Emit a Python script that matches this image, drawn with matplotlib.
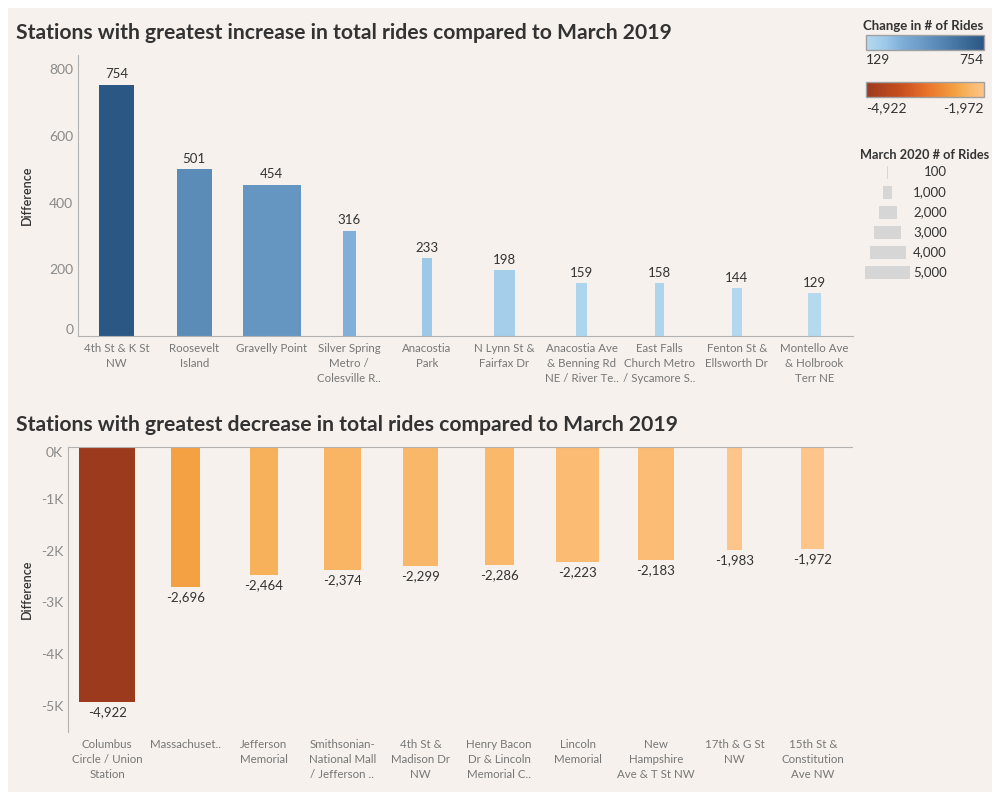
import matplotlib.pyplot as plt
import numpy as np
from matplotlib.colors import LinearSegmentedColormap, Normalize
from matplotlib.patches import Rectangle
from matplotlib.ticker import FuncFormatter

plt.rcParams['font.family'] = ['Lato', 'DejaVu Sans']

# data
inc_stations = ['4th St & K St\nNW', 'Roosevelt\nIsland', 'Gravelly Point',
                'Silver Spring\nMetro /\nColesville R..', 'Anacostia\nPark',
                'N Lynn St &\nFairfax Dr', 'Anacostia Ave\n& Benning Rd\nNE / River Te..',
                'East Falls\nChurch Metro\n/ Sycamore S..', 'Fenton St &\nEllsworth Dr',
                'Montello Ave\n& Holbrook\nTerr NE']
inc_diff = [754, 501, 454, 316, 233, 198, 159, 158, 144, 129]
inc_rides = [3900, 3900, 6450, 1450, 1100, 2350, 1200, 1000, 1100, 1450]

dec_stations = ['Columbus\nCircle / Union\nStation', 'Massachuset..', 'Jefferson\nMemorial',
                'Smithsonian-\nNational Mall\n/ Jefferson ..', '4th St &\nMadison Dr\nNW',
                'Henry Bacon\nDr & Lincoln\nMemorial C..', 'Lincoln\nMemorial',
                'New\nHampshire\nAve & T St NW', '17th & G St\nNW',
                '15th St &\nConstitution\nAve NW']
dec_diff = [-4922, -2696, -2464, -2374, -2299, -2286, -2223, -2183, -1983, -1972]
dec_rides = [6200, 3200, 3200, 4100, 3900, 3200, 4800, 4100, 1650, 2550]

size_legend = [100, 1000, 2000, 3000, 4000, 5000]

W, H = 1000, 800
PX_PER_RIDE = 45 / 5000
BG = '#f6f1ec'

blue_cmap = LinearSegmentedColormap.from_list('blues', [
    (0, '#b5daf0'), (0.17, '#9cc8e9'), (0.3, '#80afd9'),
    (0.52, '#6596c1'), (0.6, '#5a8bb8'), (1, '#2a5783')])
orange_cmap = LinearSegmentedColormap.from_list('oranges', [
    (0, '#9c3a1e'), (0.3, '#c8501f'), (0.5, '#e8702a'),
    (0.755, '#f4a142'), (0.83, '#f7b058'), (1, '#fec58a')])

fig = plt.figure(figsize=(W / 100, H / 100), dpi=100)
fig.patch.set_facecolor('white')
fig.patches.append(Rectangle((8 / W, 8 / H), 984 / W, 784 / H, transform=fig.transFigure,
                             facecolor=BG, edgecolor='none', zorder=-10))


def px_axes(x0, y0, x1, y1):
    return fig.add_axes([x0 / W, 1 - y1 / H, (x1 - x0) / W, (y1 - y0) / H])


def bar_chart(ax, names, diffs, rides, cmap):
    x = np.arange(len(names))
    unit = ax.get_position().width * W / len(names)
    widths = np.array(rides) * PX_PER_RIDE / unit
    norm = Normalize(min(diffs), max(diffs))
    bars = ax.bar(x, diffs, width=widths, color=cmap(norm(diffs)))
    ax.bar_label(bars, labels=[f'{d:,}' for d in diffs], padding=3, fontsize=9.5, color='#333333')
    ax.set_xlim(-0.5, len(names) - 0.5)
    ax.set_xticks(x, names, linespacing=1.45)
    ax.set_facecolor('none')
    ax.tick_params(length=0, labelsize=10, labelcolor='#8a8a8a')
    ax.tick_params(axis='x', labelsize=8.3, labelcolor='#777777', pad=5)
    for s in ax.spines.values():
        s.set_color('#b3b3b3')
    ax.set_ylabel('Difference', fontsize=9, color='#333333', weight='semibold')
    return bars


# top chart
ax1 = px_axes(78, 55, 853, 336)
bar_chart(ax1, inc_stations, inc_diff, inc_rides, blue_cmap)
ax1.set_ylim(0, 843)
ax1.set_yticks([0, 200, 400, 600, 800])
ax1.spines['top'].set_visible(False)
ax1.spines['right'].set_visible(False)
ax1.yaxis.get_major_ticks()[0].label1.set_va('bottom')
ax1.yaxis.set_label_coords(-45 / 775, 0.5)

# bottom chart
ax2 = px_axes(68, 447, 852, 732)
bar_chart(ax2, dec_stations, dec_diff, dec_rides, orange_cmap)
ax2.set_ylim(-5500, 0)
ax2.set_yticks([0, -1000, -2000, -3000, -4000, -5000])
ax2.yaxis.set_major_formatter(FuncFormatter(lambda v, _: f'{int(v / 1000)}K'))
ax2.spines['bottom'].set_visible(False)
ax2.spines['right'].set_visible(False)
ax2.yaxis.get_major_ticks()[0].label1.set_va('top')
ax2.yaxis.set_label_coords(-35 / 784, 0.5)

fig.text(16 / W, 1 - 33 / H, 'Stations with greatest increase in total rides compared to March 2019',
         fontsize=15.2, weight='bold', color='#333333', va='center')
fig.text(16 / W, 1 - 425 / H, 'Stations with greatest decrease in total rides compared to March 2019',
         fontsize=15.2, weight='bold', color='#333333', va='center')

# legends
leg = fig.add_axes([0, 0, 1, 1])
leg.patch.set_visible(False)
leg.axis('off')
grad = np.linspace(0, 1, 256)[None, :]

leg.text(923, 26, 'Change in # of Rides', ha='center', va='center', fontsize=9.5,
         weight='bold', color='#333333')
leg.imshow(grad, cmap=blue_cmap, extent=(866, 984, 50, 35), aspect='auto')
leg.add_patch(Rectangle((866, 35), 118, 15, fill=False, edgecolor='#a0a0a0', lw=1))
leg.text(866, 60, f'{min(inc_diff):,}', ha='left', va='center', fontsize=10, color='#333333')
leg.text(984, 60, f'{max(inc_diff):,}', ha='right', va='center', fontsize=10, color='#333333')

leg.imshow(grad, cmap=orange_cmap, extent=(866, 984, 97, 82), aspect='auto')
leg.add_patch(Rectangle((866, 82), 118, 15, fill=False, edgecolor='#a0a0a0', lw=1))
leg.text(866, 108, f'{min(dec_diff):,}', ha='left', va='center', fontsize=10, color='#333333')
leg.text(984, 108, f'{max(dec_diff):,}', ha='right', va='center', fontsize=10, color='#333333')

leg.text(925, 155, 'March 2020 # of Rides', ha='center', va='center', fontsize=9.2,
         weight='bold', color='#333333')
for i, v in enumerate(size_legend):
    y = 172 + 20 * i
    w = v * PX_PER_RIDE
    leg.add_patch(Rectangle((887.5 - w / 2, y - 6.5), w, 13, facecolor='#d6d6d6', edgecolor='none'))
    leg.text(947, y, f'{v:,}', ha='right', va='center', fontsize=9.5, color='#333333')

leg.set_xlim(0, W)
leg.set_ylim(H, 0)

plt.savefig('out.png', dpi=100, facecolor=fig.get_facecolor())
